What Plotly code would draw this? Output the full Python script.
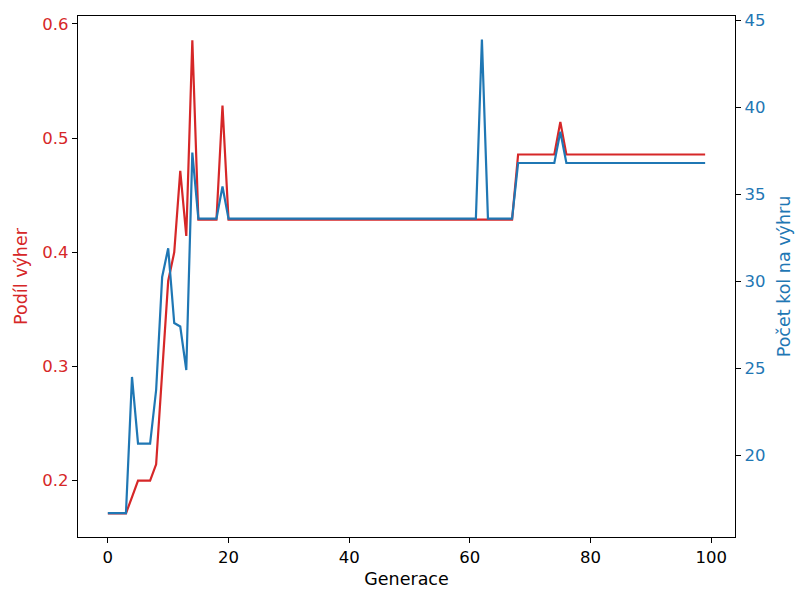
import plotly.graph_objects as go

generations = list(range(100))

win_share = [
    0.1714, 0.1714, 0.1714, 0.1714, 0.1857, 0.2, 0.2, 0.2, 0.2143, 0.295,
    0.375, 0.4, 0.4714, 0.4143, 0.5857, 0.4286, 0.4286, 0.4286, 0.4286, 0.5286,
    0.4286, 0.4286, 0.4286, 0.4286, 0.4286, 0.4286, 0.4286, 0.4286, 0.4286, 0.4286,
    0.4286, 0.4286, 0.4286, 0.4286, 0.4286, 0.4286, 0.4286, 0.4286, 0.4286, 0.4286,
    0.4286, 0.4286, 0.4286, 0.4286, 0.4286, 0.4286, 0.4286, 0.4286, 0.4286, 0.4286,
    0.4286, 0.4286, 0.4286, 0.4286, 0.4286, 0.4286, 0.4286, 0.4286, 0.4286, 0.4286,
    0.4286, 0.4286, 0.4286, 0.4286, 0.4286, 0.4286, 0.4286, 0.4286, 0.4857, 0.4857,
    0.4857, 0.4857, 0.4857, 0.4857, 0.4857, 0.5143, 0.4857, 0.4857, 0.4857, 0.4857,
    0.4857, 0.4857, 0.4857, 0.4857, 0.4857, 0.4857, 0.4857, 0.4857, 0.4857, 0.4857,
    0.4857, 0.4857, 0.4857, 0.4857, 0.4857, 0.4857, 0.4857, 0.4857, 0.4857, 0.4857,
]

rounds_to_win = [
    16.67, 16.67, 16.67, 16.67, 24.5, 20.67, 20.67, 20.67, 23.75, 30.25,
    31.9, 27.6, 27.4, 24.9, 37.4, 33.6, 33.6, 33.6, 33.6, 35.45,
    33.6, 33.6, 33.6, 33.6, 33.6, 33.6, 33.6, 33.6, 33.6, 33.6,
    33.6, 33.6, 33.6, 33.6, 33.6, 33.6, 33.6, 33.6, 33.6, 33.6,
    33.6, 33.6, 33.6, 33.6, 33.6, 33.6, 33.6, 33.6, 33.6, 33.6,
    33.6, 33.6, 33.6, 33.6, 33.6, 33.6, 33.6, 33.6, 33.6, 33.6,
    33.6, 33.6, 43.9, 33.6, 33.6, 33.6, 33.6, 33.6, 36.8, 36.8,
    36.8, 36.8, 36.8, 36.8, 36.8, 38.6, 36.8, 36.8, 36.8, 36.8,
    36.8, 36.8, 36.8, 36.8, 36.8, 36.8, 36.8, 36.8, 36.8, 36.8,
    36.8, 36.8, 36.8, 36.8, 36.8, 36.8, 36.8, 36.8, 36.8, 36.8,
]

x_ticks = [0, 20, 40, 60, 80, 100]
left_ticks = [0.2, 0.3, 0.4, 0.5, 0.6]
right_ticks = [20, 25, 30, 35, 40, 45]

RED = "#d62728"
BLUE = "#1f77b4"
FONT = "DejaVu Sans"
FS = 16.5
TFS = 17.5

fig = go.Figure()
fig.add_trace(go.Scatter(x=generations, y=win_share, mode="lines",
                         line=dict(color=RED, width=2.2), yaxis="y", showlegend=False))
fig.add_trace(go.Scatter(x=generations, y=rounds_to_win, mode="lines",
                         line=dict(color=BLUE, width=2.2), yaxis="y2", showlegend=False))

fig.update_layout(
    width=796, height=592,
    margin=dict(l=78, r=61, t=16, b=55, autoexpand=False),
    plot_bgcolor="white", paper_bgcolor="white",
    font=dict(family=FONT, size=FS, color="black"),
    xaxis=dict(
        range=[-4.95, 103.95], tickvals=x_ticks, ticktext=[str(v) for v in x_ticks],
        showgrid=False, zeroline=False, showline=True, mirror=True,
        linecolor="black", linewidth=1.3, ticks="outside", ticklen=5, tickwidth=1.3,
        tickcolor="black", tickfont=dict(size=FS, color="black"),
        title=dict(text="Generace", font=dict(size=TFS, color="black"), standoff=6),
    ),
    yaxis=dict(
        range=[0.1507, 0.607], tickvals=left_ticks, ticktext=[f"{v:.1f}" for v in left_ticks],
        showgrid=False, zeroline=False, showline=True, linecolor="black", linewidth=1.3,
        ticks="outside", ticklen=5, tickwidth=1.3, tickcolor="black",
        tickfont=dict(size=FS, color=RED),
        title=dict(text="Podíl výher", font=dict(size=TFS, color=RED), standoff=10),
    ),
    yaxis2=dict(
        range=[15.3, 45.25], tickvals=right_ticks, ticktext=[str(v) for v in right_ticks],
        overlaying="y", side="right",
        showgrid=False, zeroline=False, showline=True, linecolor="black", linewidth=1.3,
        ticks="outside", ticklen=5, tickwidth=1.3, tickcolor="black",
        tickfont=dict(size=FS, color=BLUE),
        title=dict(text="Počet kol na výhru", font=dict(size=TFS, color=BLUE), standoff=13),
    ),
)

fig.write_html("out.html", config={"displayModeBar": False},
               post_script="document.body.style.margin='0';")
